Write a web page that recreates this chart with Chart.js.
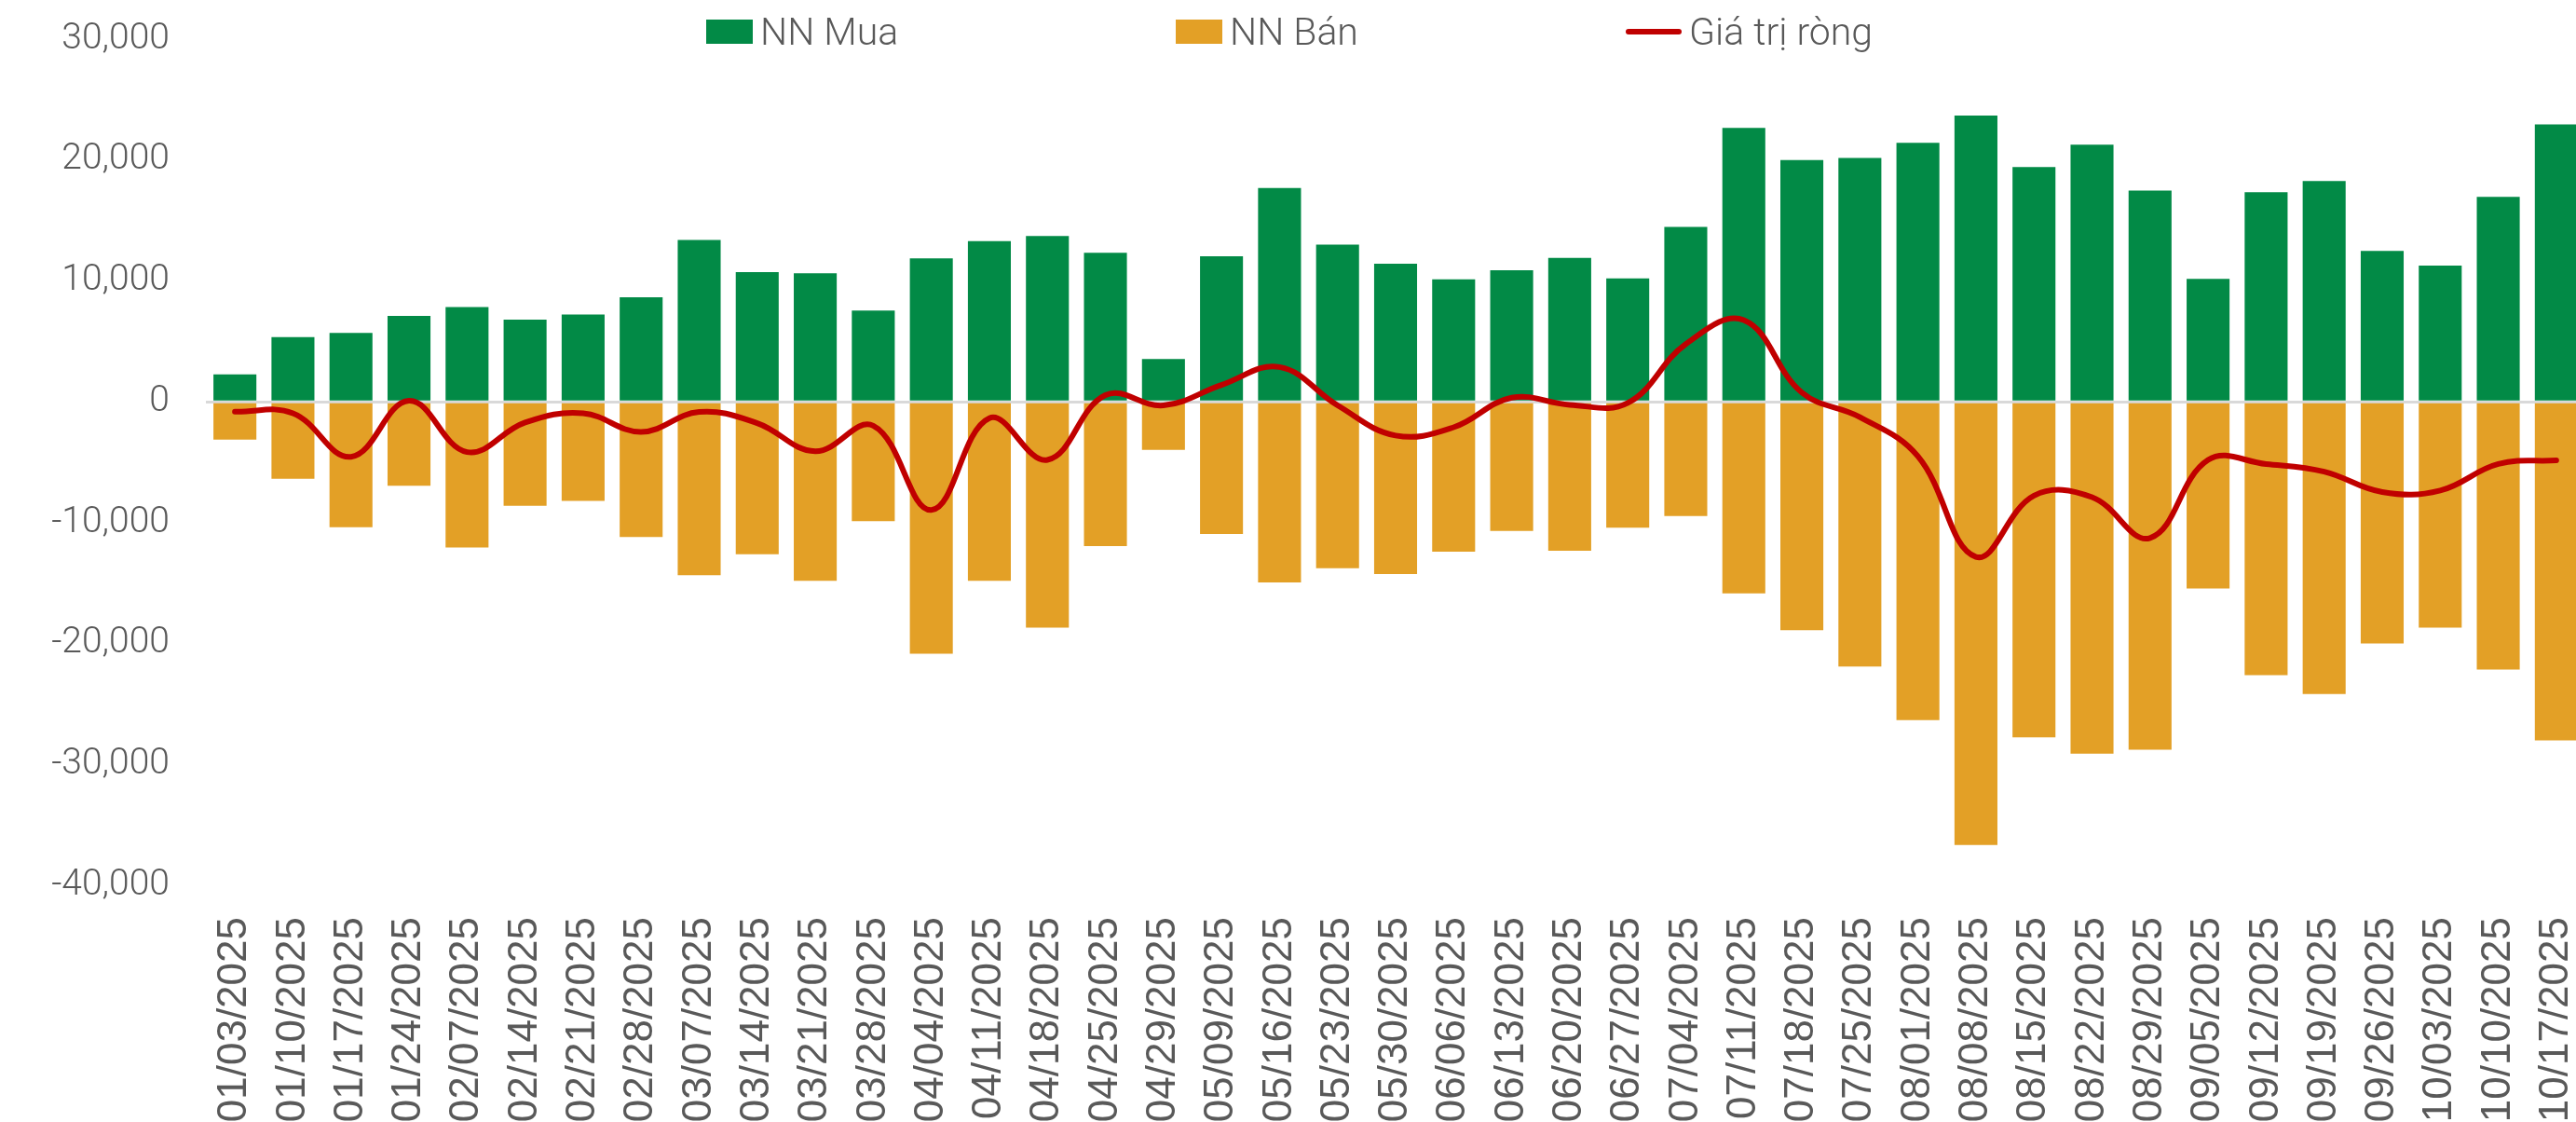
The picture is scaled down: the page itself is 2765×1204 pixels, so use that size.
<!DOCTYPE html>
<html>
<head>
<meta charset="utf-8">
<script src="https://cdn.jsdelivr.net/npm/chart.js@4/dist/chart.umd.min.js"></script>
<style>
  html, body { margin: 0; padding: 0; background: #fff; overflow: hidden; }
  #wrap { position: relative; width: 2765px; height: 1204px; overflow: hidden; }
  #chart { position: absolute; left: 0; top: 0; }
  .legend-item { position: absolute; top: 0; height: 68px; display: flex; align-items: center; }
  .legend-item span.txt { font-family: Roboto, sans-serif; font-weight: 300; font-size: 41px; color: #595959; margin-left: 8px; }
</style>
</head>
<body>
<div id="wrap">
  <canvas id="chart" width="2775" height="1204"></canvas>
</div>
<script>
// Weekly foreign investor trading (NN Mua / NN Bán / Giá trị ròng)

const weeks = ['01/03/2025', '01/10/2025', '01/17/2025', '01/24/2025', '02/07/2025', '02/14/2025',
  '02/21/2025', '02/28/2025', '03/07/2025', '03/14/2025', '03/21/2025', '03/28/2025', '04/04/2025',
  '04/11/2025', '04/18/2025', '04/25/2025', '04/29/2025', '05/09/2025', '05/16/2025', '05/23/2025',
  '05/30/2025', '06/06/2025', '06/13/2025', '06/20/2025', '06/27/2025', '07/04/2025', '07/11/2025',
  '07/18/2025', '07/25/2025', '08/01/2025', '08/08/2025', '08/15/2025', '08/22/2025', '08/29/2025',
  '09/05/2025', '09/12/2025', '09/19/2025', '09/26/2025', '10/03/2025', '10/10/2025', '10/17/2025'];

const buyValues = [2260, 5350, 5700, 7100, 7840, 6790, 7220, 8640, 13380, 10720, 10630, 7550, 11860,
  13290, 13710, 12320, 3540, 12030, 17680, 13000, 11430, 10130, 10890, 11900, 10210, 14470, 22660,
  20000, 20170, 21430, 23670, 19410, 21270, 17470, 10170, 17340, 18270, 12490, 11270, 16960, 22950];

const sellValues = [-3140, -6360, -10370, -6950, -12060, -8610, -8190, -11180, -14350, -12620, -14810,
  -9870, -20840, -14810, -18690, -11940, -3970, -10930, -14940, -13760, -14260, -12410, -10680, -12320,
  -10420, -9450, -15860, -18900, -21900, -26330, -36670, -27760, -29110, -28780, -15440, -22620, -24180,
  -20000, -18690, -22150, -28020];

const netValues = [-820, -950, -4550, 80, -4160, -1720, -950, -2490, -840, -1770, -4090, -1980, -8950,
  -1350, -4810, 550, -300, 1390, 2870, -300, -2790, -2110, 340, -250, -100, 4770, 6750, 760, -1270,
  -4510, -12830, -7760, -7890, -11270, -4810, -5150, -5780, -7470, -7340, -5150, -4850];

const yTicks = [-40000, -30000, -20000, -10000, 0, 10000, 20000, 30000];

const seriesNames = ['NN Mua', 'NN Bán', 'Giá trị ròng'];

const GREEN = '#028a46';
const ORANGE = '#e3a026';
const RED = '#c00000';
const TEXT = '#595959';

const ctx = document.getElementById('chart').getContext('2d');

const chart = new Chart(ctx, {
  type: 'bar',
  data: {
    labels: weeks,
    datasets: [
      {
        type: 'line',
        label: seriesNames[2],
        data: netValues,
        borderColor: RED,
        borderWidth: 6,
        pointRadius: 0,
        tension: 0.4,
        borderCapStyle: 'round',
        fill: false,
        order: 0
      },
      {
        label: seriesNames[0],
        data: buyValues,
        backgroundColor: GREEN,
        grouped: false,
        barPercentage: 0.74,
        categoryPercentage: 1,
        order: 1
      },
      {
        label: seriesNames[1],
        data: sellValues,
        backgroundColor: ORANGE,
        grouped: false,
        barPercentage: 0.74,
        categoryPercentage: 1,
        order: 2
      }
    ]
  },
  options: {
    responsive: false,
    animation: false,
    layout: { padding: { top: 42, right: 0, bottom: 0, left: 0 } },
    plugins: {
      legend: { display: false },
      tooltip: { enabled: false }
    },
    scales: {
      x: {
        offset: true,
        grid: { display: false, drawTicks: false },
        border: { display: false },
        ticks: {
          autoSkip: false,
          maxRotation: 90,
          minRotation: 90,
          padding: 34,
          color: TEXT,
          font: { family: 'Liberation Sans', size: 44 }
        },
        afterFit: (axis) => {
          axis.height = 254;
          axis.paddingLeft = 0;
          axis.paddingRight = 0;
        }
      },
      y: {
        min: yTicks[0],
        max: yTicks[yTicks.length - 1],
        afterBuildTicks: (axis) => { axis.ticks = yTicks.map(v => ({ value: v })); },
        grid: {
          drawTicks: false,
          lineWidth: 3,
          color: (c) => (c.tick && c.tick.value === 0 ? '#d9d9d9' : 'rgba(0,0,0,0)')
        },
        border: { display: false },
        ticks: {
          padding: 39,
          color: TEXT,
          font: { family: 'Roboto', size: 39, weight: 300 },
          callback: (v) => Number(v).toLocaleString('en-US')
        },
        afterFit: (axis) => {
          axis.width = 221;
          axis.paddingTop = 0;
          axis.paddingBottom = 0;
        }
      }
    }
  }
});

// =========================
// LEGEND (html, over the plot)
// =========================
const legendLeft = [758, 1262, 1745];
const wrap = document.getElementById('wrap');
[1, 2, 0].forEach((dsIndex, i) => {
  const ds = chart.data.datasets[dsIndex];
  const item = document.createElement('div');
  item.className = 'legend-item';
  item.style.left = legendLeft[i] + 'px';
  const mark = document.createElement('span');
  if (ds.type === 'line') {
    mark.style.cssText = 'display:inline-block;width:60px;height:6px;border-radius:3px;background:' + ds.borderColor;
  } else {
    mark.style.cssText = 'display:inline-block;width:50px;height:26px;background:' + ds.backgroundColor;
  }
  const txt = document.createElement('span');
  txt.className = 'txt';
  txt.textContent = ds.label;
  item.appendChild(mark);
  item.appendChild(txt);
  wrap.appendChild(item);
});
</script>
</body>
</html>
